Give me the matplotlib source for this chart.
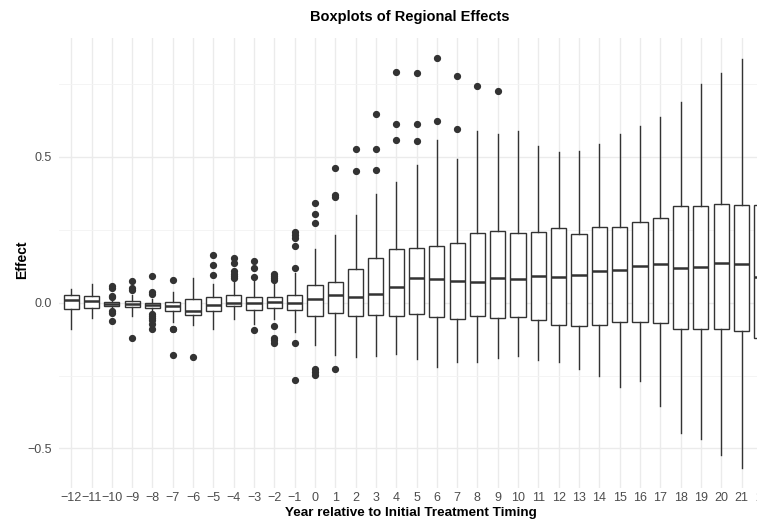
import matplotlib.pyplot as plt
import numpy as np

# years relative to initial treatment timing
years = list(range(-12, 23))

# box statistics
whis_lo = [-0.089, -0.052, -0.022, -0.045, -0.030, -0.065, -0.076, -0.089, -0.055, -0.073,
           -0.056, -0.102, -0.145, -0.180, -0.187, -0.184, -0.177, -0.192, -0.220, -0.205,
           -0.204, -0.190, -0.182, -0.198, -0.203, -0.226, -0.252, -0.290, -0.269, -0.355,
           -0.446, -0.468, -0.523, -0.566, -0.600]
q1 = [-0.022, -0.017, -0.011, -0.016, -0.017, -0.027, -0.041, -0.029, -0.013, -0.025,
      -0.017, -0.025, -0.045, -0.035, -0.045, -0.041, -0.045, -0.039, -0.050, -0.055,
      -0.047, -0.054, -0.050, -0.061, -0.076, -0.079, -0.078, -0.066, -0.068, -0.071,
      -0.090, -0.091, -0.090, -0.096, -0.122]
med = [0.010, 0.005, -0.005, -0.005, -0.007, -0.013, -0.030, -0.007, -0.002, 0.000,
       0.002, -0.002, 0.014, 0.026, 0.020, 0.030, 0.054, 0.083, 0.082, 0.074,
       0.071, 0.085, 0.080, 0.092, 0.087, 0.095, 0.107, 0.113, 0.127, 0.132,
       0.119, 0.121, 0.137, 0.131, 0.087]
q3 = [0.026, 0.023, 0.001, 0.005, -0.001, 0.001, 0.014, 0.018, 0.026, 0.018,
      0.019, 0.025, 0.059, 0.072, 0.115, 0.153, 0.185, 0.186, 0.195, 0.204,
      0.239, 0.245, 0.239, 0.242, 0.255, 0.235, 0.259, 0.259, 0.277, 0.291,
      0.333, 0.331, 0.340, 0.334, 0.336]
whis_hi = [0.047, 0.065, 0.012, 0.027, 0.014, 0.035, 0.085, 0.065, 0.073, 0.076,
           0.073, 0.102, 0.185, 0.231, 0.300, 0.373, 0.413, 0.471, 0.558, 0.494,
           0.589, 0.578, 0.589, 0.538, 0.518, 0.521, 0.543, 0.578, 0.607, 0.637,
           0.690, 0.750, 0.789, 0.837, 0.850]
outliers = [
    [], [],
    [0.056, 0.050, 0.022, 0.018, -0.028, -0.035, -0.063],
    [0.075, 0.050, 0.042, -0.121],
    [0.091, 0.035, 0.031, -0.040, -0.047, -0.054, -0.061, -0.072, -0.090],
    [0.078, -0.089, -0.092, -0.180],
    [-0.186],
    [0.163, 0.130, 0.094],
    [0.153, 0.136, 0.107, 0.099, 0.092, 0.085],
    [0.143, 0.119, 0.087, -0.095],
    [0.099, 0.092, 0.085, 0.079, -0.079, -0.123, -0.129, -0.138],
    [0.241, 0.233, 0.221, 0.193, 0.119, -0.137, -0.267],
    [0.341, 0.304, 0.274, -0.229, -0.237, -0.247],
    [0.463, 0.370, 0.364, -0.229],
    [0.527, 0.452],
    [0.646, 0.526, 0.455],
    [0.791, 0.614, 0.558],
    [0.789, 0.614, 0.554],
    [0.838, 0.622],
    [0.778, 0.596],
    [0.745],
    [0.725],
    [], [], [], [], [], [], [], [], [], [], [], [], [],
]

W, H = 757, 519
fig = plt.figure(figsize=(W / 100, H / 100), dpi=100)
plt.rcParams['font.family'] = ['Liberation Sans', 'DejaVu Sans']

# panel in pixel coordinates (extends past the right edge, like the cropped reference)
left, right, top, bottom = 59, 774, 38, 488
ax = fig.add_axes([left / W, 1 - bottom / H, (right - left) / W, (bottom - top) / H])

stats = []
for i, y in enumerate(years):
    stats.append(dict(whislo=whis_lo[i], q1=q1[i], med=med[i], q3=q3[i],
                      whishi=whis_hi[i], fliers=outliers[i]))

edge = '#333333'
ax.bxp(stats, positions=years, widths=0.75, showcaps=False, patch_artist=True,
       boxprops=dict(facecolor='white', edgecolor=edge, linewidth=1.0),
       whiskerprops=dict(color=edge, linewidth=1.0),
       medianprops=dict(color=edge, linewidth=1.8),
       flierprops=dict(marker='o', markerfacecolor=edge, markeredgecolor=edge,
                       markersize=4.2, linestyle='none'),
       zorder=3)

ax.set_xlim(-12.6, 22.6)
ax.set_ylim(-0.636, 0.908)
ax.set_xticks(years)
ax.set_xticklabels([str(y).replace('-', '\u2212') for y in years])
ax.set_yticks([-0.5, 0.0, 0.5])
ax.set_yticklabels(['\u22120.5', '0.0', '0.5'])
ax.set_yticks([-0.25, 0.25, 0.75], minor=True)

ax.grid(True, which='major', color='#EBEBEB', linewidth=1.0, zorder=0)
ax.grid(True, which='minor', axis='y', color='#F3F3F3', linewidth=0.6, zorder=0)
ax.set_axisbelow(True)
for s in ax.spines.values():
    s.set_visible(False)
ax.tick_params(axis='both', which='both', length=0, labelsize=9, labelcolor='#4D4D4D')
ax.tick_params(axis='x', pad=3)
ax.tick_params(axis='y', pad=5)

fig.text(410 / W, 1 - 17 / H, 'Boxplots of Regional Effects', ha='center', va='center',
         fontsize=10.5, fontweight='bold')
fig.text(411 / W, 1 - 513 / H, 'Year relative to Initial Treatment Timing', ha='center',
         va='center', fontsize=9.7, fontweight='bold')
fig.text(22 / W, 1 - 260 / H, 'Effect', ha='center', va='center', rotation=90,
         fontsize=10, fontweight='bold')

fig.savefig('out.png', dpi=100)
